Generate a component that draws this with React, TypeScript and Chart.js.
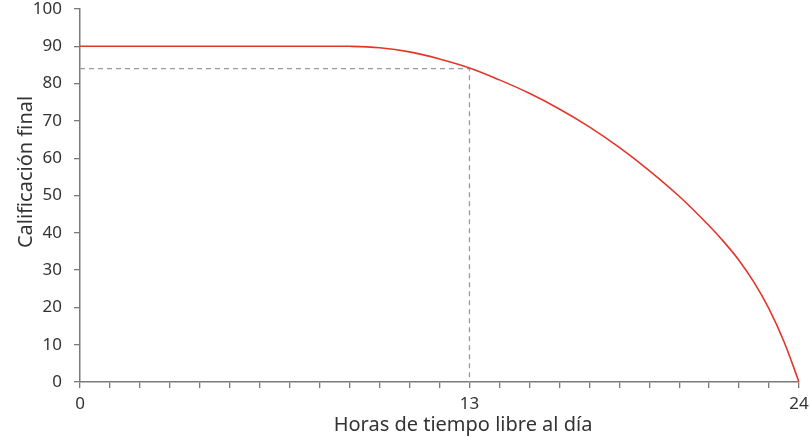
import React, { useEffect, useRef } from "react";
import { Chart, registerables } from "chart.js";

Chart.register(...registerables);

const hours = [0, 1, 2, 3, 4, 5, 6, 7, 8, 9, 10, 11, 12, 13, 14, 15, 16, 17, 18, 19, 20, 21, 21.5, 22, 22.5, 23, 23.5, 24];
const grades = [90, 90, 90, 90, 90, 90, 90, 90, 90, 90, 89.6, 88.5, 86.6, 84.2, 81.0, 77.4, 73.2, 68.4, 62.9, 56.7, 49.8, 41.9, 37.5, 32.6, 26.7, 19.6, 10.8, 0];
const refX = [0, 13, 13];
const refY = [84, 84, 0];
const xLabelled = [0, 13, 24];
const xTitle = "Horas de tiempo libre al día";
const yTitle = "Calificación final";

export default function App() {
  const ref = useRef<HTMLCanvasElement>(null);
  useEffect(() => {
    if (!ref.current) return;
    const axisColor = "#7a7a7a";
    const textColor = "#333333";
    const titlePlugin = {
      id: "axisTitles",
      afterDraw(chart: any) {
        const ctx = chart.ctx;
        ctx.save();
        ctx.fillStyle = textColor;
        ctx.font = "20px 'Noto Sans'";
        ctx.textAlign = "center";
        ctx.textBaseline = "alphabetic";
        ctx.fillText(xTitle, 463, 431);
        ctx.translate(32, 172);
        ctx.rotate(-Math.PI / 2);
        ctx.fillText(yTitle, 0, 0);
        ctx.restore();
      },
    };
    const chart = new Chart(ref.current, {
      type: "line",
      data: {
        datasets: [
          {
            data: hours.map((h, i) => ({ x: h, y: grades[i] })),
            borderColor: "#e4352a",
            borderWidth: 1.6,
            pointRadius: 0,
            tension: 0.4,
            fill: false,
          },
          {
            data: refX.map((h, i) => ({ x: h, y: refY[i] })),
            borderColor: "#9a9a9a",
            borderWidth: 1.3,
            borderDash: [5, 4],
            pointRadius: 0,
            tension: 0,
            fill: false,
          },
        ],
      },
      options: {
        animation: false,
        responsive: false,
        events: [],
        layout: { padding: 0 },
        plugins: { legend: { display: false }, tooltip: { enabled: false } },
        scales: {
          x: {
            type: "linear",
            min: 0,
            max: 24,
            afterFit: (s: any) => {
              s.height = 63;
              s.paddingLeft = 0;
              s.paddingRight = 11;
            },
            border: { display: true, color: axisColor, width: 1.5 },
            grid: {
              drawOnChartArea: false,
              drawTicks: true,
              tickLength: 6,
              color: axisColor,
              lineWidth: 1.3,
            },
            ticks: {
              stepSize: 1,
              autoSkip: false,
              maxRotation: 0,
              padding: 6,
              color: textColor,
              font: { family: "Noto Sans", size: 17 },
              callback: (v: any) => (xLabelled.includes(Number(v)) ? String(v) : ""),
            },
          },
          y: {
            min: 0,
            max: 100,
            afterFit: (s: any) => {
              s.width = 80;
              s.paddingTop = 9;
              s.paddingBottom = 0;
            },
            border: { display: true, color: axisColor, width: 1.5 },
            grid: {
              drawOnChartArea: false,
              drawTicks: true,
              tickLength: 6,
              color: axisColor,
              lineWidth: 1.3,
            },
            ticks: {
              stepSize: 10,
              padding: 12,
              color: textColor,
              font: { family: "Noto Sans", size: 17 },
            },
          },
        },
      },
      plugins: [titlePlugin],
    } as any);
    return () => chart.destroy();
  }, []);
  return (
    <div style={{ position: "absolute", left: 0, top: 0, width: 810, height: 445, background: "#fff" }}>
      <canvas ref={ref} width={810} height={445} style={{ width: 810, height: 445 }} />
    </div>
  );
}
